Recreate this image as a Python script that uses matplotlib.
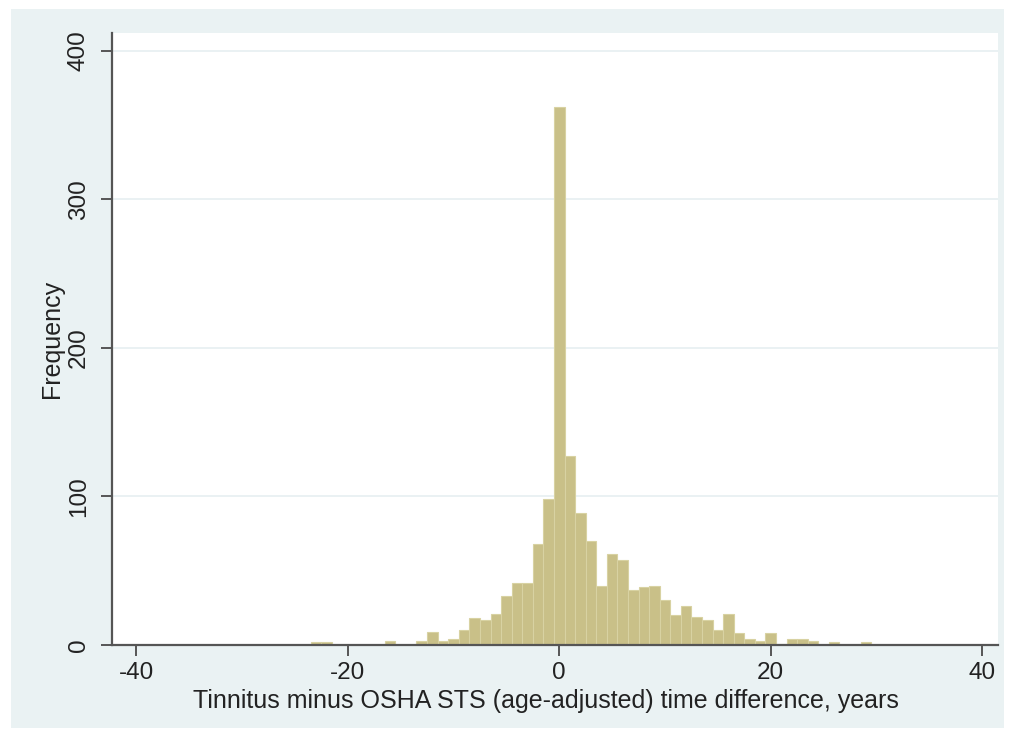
import numpy as np
import matplotlib
matplotlib.use("Agg")
import matplotlib.pyplot as plt
from matplotlib.patches import Rectangle

plt.rcParams['font.family'] = ['Liberation Sans', 'DejaVu Sans']
plt.rcParams['axes.unicode_minus'] = False

# Histogram bins (one-year width, centred on whole years) and their counts
bin_centres = [-23, -22, -16, -13, -12, -11, -10, -9, -8, -7, -6, -5, -4, -3, -2, -1,
               0, 1, 2, 3, 4, 5, 6, 7, 8, 9, 10, 11, 12, 13, 14, 15, 16, 17, 18, 19,
               20, 21, 22, 23, 24, 26, 29]
frequencies = [2, 2, 3, 3, 9, 3, 4, 10, 18, 17, 21, 33, 42, 42, 68, 98,
               362, 127, 89, 70, 40, 61, 57, 37, 39, 40, 30, 20, 26, 19, 17, 10, 21, 8, 4, 3,
               8, 1, 4, 4, 3, 2, 2]
bin_width = 1.0

x_ticks = [-40, -20, 0, 20, 40]
y_ticks = [0, 100, 200, 300, 400]

outer_bg = "#EAF2F3"
bar_fill = "#C9C088"
bar_edge = "#D8D2A2"
axis_col = "#555555"

fig = plt.figure(figsize=(10.1, 7.38), dpi=100)
fig.patch.set_facecolor("white")

# Light graph region behind the plot area
fig.patches.append(Rectangle((11 / 1010, 1 - 728 / 738), (1004 - 11) / 1010, (728 - 9) / 738,
                             transform=fig.transFigure, facecolor=outer_bg,
                             edgecolor="none", zorder=-1))

ax = fig.add_axes([112 / 1010, 1 - 645 / 738, (998 - 112) / 1010, (645 - 33) / 738])
ax.set_zorder(1)
ax.set_facecolor("white")

ax.bar(bin_centres, frequencies, width=bin_width, color=bar_fill,
       edgecolor=bar_edge, linewidth=0.8, zorder=3)

ax.set_xlim(-42.3, 41.5)
ax.set_ylim(0, 412)

ax.set_yticks(y_ticks)
ax.set_xticks(x_ticks)
ax.set_yticklabels([str(v) for v in y_ticks], rotation=90, va="center")
ax.grid(axis="y", color="#E6EFF1", linewidth=1.2, zorder=1)
ax.set_axisbelow(True)

for side in ["top", "right"]:
    ax.spines[side].set_visible(False)
for side in ["left", "bottom"]:
    ax.spines[side].set_color(axis_col)
    ax.spines[side].set_linewidth(1.6)
    ax.spines[side].set_zorder(4)

ax.tick_params(axis="both", direction="out", length=8, width=1.4, color=axis_col,
               labelsize=17.5, labelcolor="#222222")
ax.tick_params(axis="y", pad=8)
ax.tick_params(axis="x", pad=4)

ax.set_xlabel("Tinnitus minus OSHA STS (age-adjusted) time difference, years",
              fontsize=18, color="#222222")
ax.set_ylabel("Frequency", fontsize=18, color="#222222")
ax.xaxis.set_label_coords(0.49, -0.072)
ax.yaxis.set_label_coords(-0.054, 0.5)

fig.savefig("out.png", dpi=100, facecolor=fig.get_facecolor())
